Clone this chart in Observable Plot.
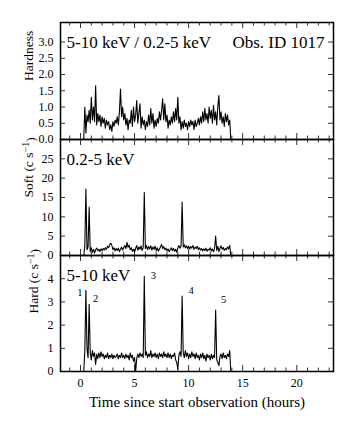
<!DOCTYPE html>
<html>
<head>
<meta charset="utf-8">
<script src="https://cdn.jsdelivr.net/npm/d3@7"></script>
<script src="https://cdn.jsdelivr.net/npm/@observablehq/plot@0.6"></script>
<style>
  body { margin: 0; background: white; }
  #chart svg { display: block; }
</style>
</head>
<body>
<div id="chart"></div>
<script>
// ---- data (hours since start; 0.1 h bins) ----
const time = [
  0.3,0.4,0.5,0.6,0.7,0.8,0.9,
  1.0,1.1,1.2,1.3,1.4,1.5,1.6,1.7,1.8,1.9,
  2.0,2.1,2.2,2.3,2.4,2.5,2.6,2.7,2.8,2.9,
  3.0,3.1,3.2,3.3,3.4,3.5,3.6,3.7,3.8,3.9,
  4.0,4.1,4.2,4.3,4.4,4.5,4.6,4.7,4.8,4.9,
  5.0,5.1,5.2,5.3,5.4,5.5,5.6,5.7,5.8,5.9,
  6.0,6.1,6.2,6.3,6.4,6.5,6.6,6.7,6.8,6.9,
  7.0,7.1,7.2,7.3,7.4,7.5,7.6,7.7,7.8,7.9,
  8.0,8.1,8.2,8.3,8.4,8.5,8.6,8.7,8.8,8.9,
  9.0,9.1,9.2,9.3,9.4,9.5,9.6,9.7,9.8,9.9,
  10.0,10.1,10.2,10.3,10.4,10.5,10.6,10.7,10.8,10.9,
  11.0,11.1,11.2,11.3,11.4,11.5,11.6,11.7,11.8,11.9,
  12.0,12.1,12.2,12.3,12.4,12.5,12.6,12.7,12.8,12.9,
  13.0,13.1,13.2,13.3,13.4,13.5,13.6,13.7,13.8,13.9
];
const hardness = [
  0,1.0,0.2,0.75,0.55,0.9,0.5,
  1.3,0.6,1.0,0.55,1.65,0.45,0.8,0.55,0.75,0.4,
  0.7,0.5,0.65,0.35,0.6,0.45,0.55,0.3,0.45,0.25,
  0.55,0.4,0.6,0.5,0.7,0.45,0.85,1.55,0.7,1.0,
  0.6,0.8,0.45,0.65,0.3,0.6,0.5,0.9,0.4,1.0,
  0.55,0.75,1.2,0.5,0.8,1.1,0.35,0.7,0.45,0.6,
  0.3,0.55,0.4,0.75,0.45,0.95,0.5,0.8,0.35,0.6,
  0.4,0.65,0.5,0.85,0.6,0.9,1.25,0.6,1.1,0.55,
  0.75,0.35,0.6,0.45,0.7,0.5,0.85,0.55,0.95,0.6,
  1.3,0.5,0.7,0.3,0.55,0.35,0.6,0.4,0.5,0.3,
  0.55,0.4,0.6,0.45,0.55,0.3,0.6,0.4,0.5,0.65,
  0.45,0.7,0.5,0.85,0.55,0.95,0.6,0.8,0.5,1.0,
  0.65,0.9,0.5,1.05,0.6,0.85,0.45,1.0,1.35,0.6,
  0.85,0.5,0.7,0.4,0.8,0.55,0.75,0.45,0.6,0
];
const soft = [
  0,2.5,17.2,1.5,2.2,12.5,1.0,
  2.0,0.8,1.6,0.6,1.5,1.9,1.2,1.6,1.0,1.7,
  1.3,1.8,1.4,2.0,1.6,2.4,2.0,2.8,3.2,2.6,
  1.5,2.0,1.2,1.8,1.3,1.9,1.0,1.7,2.2,1.4,
  2.0,2.6,1.8,3.4,2.1,2.7,1.5,2.0,1.1,1.6,
  0.9,1.8,2.6,1.4,2.2,1.6,2.5,1.3,2.1,16.3,
  1.8,2.6,1.5,2.3,1.7,2.5,1.4,2.2,1.6,2.4,
  1.3,2.0,1.1,1.7,2.2,2.9,1.8,2.3,1.5,1.9,
  1.2,1.7,1.0,1.5,2.0,1.3,1.8,1.1,1.6,0.8,
  1.9,2.6,1.9,2.4,13.8,2.2,2.8,2.0,2.5,1.8,
  2.4,1.7,2.3,1.9,2.6,1.6,2.2,1.8,2.4,1.5,
  2.0,1.4,1.8,1.2,1.7,1.3,1.9,1.1,1.6,1.4,
  2.0,1.2,1.7,1.0,1.8,5.0,1.3,2.4,1.0,1.9,
  2.5,1.6,2.1,1.3,1.8,1.5,2.2,1.7,2.6,0
];
const hard = [
  0,0.9,3.5,1.0,0.6,2.9,0.8,
  0.5,0.9,0.65,0.8,0.3,0.75,0.55,0.8,0.6,0.85,
  0.65,0.75,0.55,0.7,0.6,0.8,0.55,0.7,0.6,0.75,
  0.55,0.7,0.6,0.65,0.75,0.55,0.7,0.6,0.8,0.6,
  0.7,0.55,0.75,0.6,0.7,0.5,0.8,0.6,0.7,0.45,
  0.6,0.0,0.55,0.75,0.6,0.8,0.65,0.75,0.6,4.1,
  0.7,0.85,0.6,0.75,0.65,0.9,0.6,0.75,0.65,0.8,
  0.6,0.75,0.55,0.8,0.65,0.75,0.6,0.85,0.65,0.75,
  0.6,0.8,0.6,0.75,0.55,0.7,0.65,0.8,0.5,0.4,
  0.1,0.7,0.85,0.65,3.25,0.8,0.6,0.9,0.65,0.8,
  0.55,0.75,0.6,0.85,0.65,0.75,0.55,0.8,0.6,0.7,
  0.5,0.75,0.6,0.8,0.55,0.7,0.45,0.75,0.6,0.7,
  0.5,0.75,0.55,0.7,0.6,2.65,0.5,0.4,0.25,0.65,
  0.75,0.55,0.8,0.6,0.7,0.55,0.75,0.65,0.9,0
];
const flareLabels = ["1","2","3","4","5"];
const flareTimes = [0.5, 0.8, 5.9, 9.4, 12.5];

const xMajorTicks = [0, 5, 10, 15, 20];
const xMinorTicks = [-1,1,2,3,4,6,7,8,9,11,12,13,14,16,17,18,19,21,22,23];
const hardnessTicks = [0.0,0.5,1.0,1.5,2.0,2.5,3.0];
const softTicks = [0,5,10,15,20,25];
const hardTicks = [0,1,2,3,4];

const xTitle = "Time since start observation (hours)";
const hardnessTitle = "Hardness";
const softTitle = "Soft (c s\u22121)";
const hardTitle = "Hard (c s\u22121)";
const unitSuffix = " (c s\u22121)";
const hardnessNote = "5-10 keV / 0.2-5 keV";
const softNote = "0.2-5 keV";
const hardNote = "5-10 keV";
const obsNote = "Obs. ID 1017";

// ---- layout ----
const W = 353, ML = 60, MR = 20;
const PW = W - ML - MR;
const FONT = "'Liberation Serif', 'Times New Roman', serif";
const X_DOMAIN = [-1.85, 23.4];

function panel({height, marginTop, marginBottom, yDomain, yTicks, yFormat, values, ylabel, ylabelDx, note, extra = []}) {
  const rows = time.map((t, i) => ({t, v: values[i]}));
  const PH = height - marginTop - marginBottom;
  return Plot.plot({
    width: W, height, marginTop, marginBottom, marginLeft: ML, marginRight: MR,
    x: {domain: X_DOMAIN, axis: null},
    y: {domain: yDomain, axis: null},
    style: {fontFamily: FONT, fontSize: "12px", background: "transparent", overflow: "visible", color: "black"},
    marks: [
      Plot.line(rows, {x: "t", y: "v", stroke: "black", strokeWidth: 1.1}),
      Plot.ruleX(xMajorTicks, {insetTop: PH - 6, stroke: "black", strokeWidth: 0.8}),
      Plot.ruleX(xMajorTicks, {insetBottom: PH - 6, stroke: "black", strokeWidth: 0.8}),
      Plot.ruleX(xMinorTicks, {insetTop: PH - 3.5, stroke: "black", strokeWidth: 0.8}),
      Plot.ruleX(xMinorTicks, {insetBottom: PH - 3.5, stroke: "black", strokeWidth: 0.8}),
      Plot.ruleY(yTicks, {insetRight: PW - 5, stroke: "black", strokeWidth: 0.8}),
      Plot.ruleY(yTicks, {insetLeft: PW - 5, stroke: "black", strokeWidth: 0.8}),
      Plot.axisY({ticks: yTicks, tickSize: 0, tickPadding: 7, tickFormat: yFormat, label: null, fontSize: 12}),
      Plot.frame({stroke: "black", strokeWidth: 1.5}),
      Plot.text([ylabel], {frameAnchor: "left", rotate: -90, dx: ylabelDx, lineAnchor: "middle", fontSize: 13.5, fill: "black"}),
      Plot.text([note], {frameAnchor: "top-left", textAnchor: "start", lineAnchor: "bottom", dx: 6, dy: 25, fontSize: 17, fill: "black"}),
      ...extra
    ]
  });
}

const p1 = panel({
  height: 139, marginTop: 22, marginBottom: 0,
  yDomain: [0, 3.6], yTicks: hardnessTicks, yFormat: d3.format(".1f"),
  values: hardness, ylabel: hardnessTitle, ylabelDx: -31.5, note: hardnessNote,
  extra: [Plot.text([obsNote], {frameAnchor: "top-right", textAnchor: "end", lineAnchor: "bottom", dx: -9, dy: 25, fontSize: 17, fill: "black"})]
});
const p2 = panel({
  height: 116, marginTop: 0, marginBottom: 0,
  yDomain: [0, 30], yTicks: softTicks, yFormat: d3.format("d"),
  values: soft, ylabel: softTitle, ylabelDx: -31.5, note: softNote
});
const labelOffsets = [[-6, 2], [6.5, -6], [9, -1], [9, -5], [8, -10]];
const flareMarks = flareLabels.map((lab, k) => {
  const i = time.indexOf(flareTimes[k]);
  return Plot.text([{t: time[i], v: hard[i], lab}], {
    x: "t", y: "v", text: "lab", dx: labelOffsets[k][0], dy: labelOffsets[k][1],
    fontSize: 10.5, lineAnchor: "middle", fill: "black"
  });
});
const p3 = panel({
  height: 178, marginTop: 0, marginBottom: 62,
  yDomain: [0, 5], yTicks: hardTicks, yFormat: d3.format("d"),
  values: hard, ylabel: hardTitle, ylabelDx: -27, note: hardNote,
  extra: [
    ...flareMarks,
    Plot.axisX({ticks: xMajorTicks, tickSize: 0, tickPadding: 7, label: null, fontSize: 12}),
    Plot.text([xTitle], {frameAnchor: "bottom", dy: 31, lineAnchor: "middle", fontSize: 15, fill: "black"})
  ]
});

// typeset the "−1" exponent of the unit labels as a superscript
for (const svg of [p2, p3]) {
  for (const t of svg.querySelectorAll("text")) {
    const s = t.textContent;
    if (s.endsWith(unitSuffix)) {
      const head = s.slice(0, s.length - unitSuffix.length);
      t.textContent = "";
      const ns = "http://www.w3.org/2000/svg";
      const a = document.createElementNS(ns, "tspan");
      a.textContent = head + " (c s";
      const b = document.createElementNS(ns, "tspan");
      b.textContent = "\u22121";
      b.setAttribute("dy", "-0.4em");
      b.setAttribute("font-size", "10");
      const c = document.createElementNS(ns, "tspan");
      c.textContent = ")";
      c.setAttribute("dy", "0.4em");
      t.append(a, b, c);
    }
  }
}

const chart = document.getElementById("chart");
chart.append(p1, p2, p3);
</script>
</body>
</html>
